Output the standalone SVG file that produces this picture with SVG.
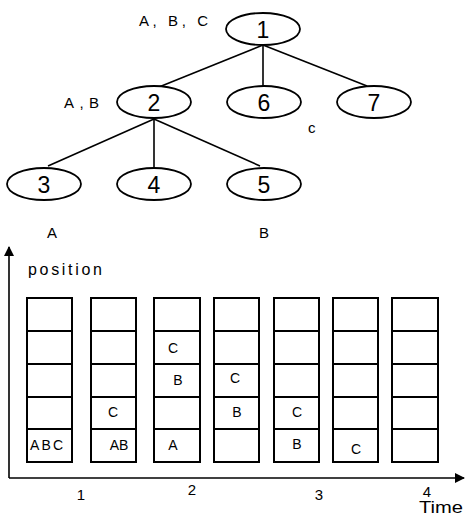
<svg xmlns="http://www.w3.org/2000/svg" width="465" height="517" viewBox="0 0 465 517">
<defs>
<style>
.n{fill:#fff;stroke:#000;stroke-width:1.8}
.e{stroke:#000;stroke-width:1.6;fill:none}
.t{font-family:"Liberation Sans",Arial,sans-serif;fill:#000}
.num{font-size:23px;text-anchor:middle}
.lab{font-size:15px}
.cell{fill:#fff;stroke:#000;stroke-width:2}
.cl{font-size:14px;text-anchor:middle}
.ax{stroke:#000;stroke-width:1.6;fill:none}
</style>
<marker id="arr" viewBox="0 0 10 10" refX="9" refY="5" markerWidth="10" markerHeight="10" markerUnits="userSpaceOnUse" orient="auto">
<path d="M0,0 L10,5 L0,10 z" fill="#000"/>
</marker>
</defs>
<rect width="465" height="517" fill="#fff"/>
<g id="connectors">
<line class="e" x1="263" y1="45" x2="159" y2="87"/>
<line class="e" x1="263" y1="45" x2="263" y2="87"/>
<line class="e" x1="263" y1="45" x2="367" y2="86"/>
<line class="e" x1="154" y1="119" x2="48" y2="166"/>
<line class="e" x1="154" y1="119" x2="154" y2="168"/>
<line class="e" x1="154" y1="119" x2="260" y2="166"/>
</g>
<g id="node1"><ellipse class="n" cx="263" cy="29" rx="37" ry="16"/><text class="t num" x="263" y="37.5">1</text></g>
<g id="node2"><ellipse class="n" cx="154" cy="102" rx="37" ry="16"/><text class="t num" x="154" y="110.5">2</text></g>
<g id="node6"><ellipse class="n" cx="264" cy="102" rx="37" ry="16"/><text class="t num" x="264" y="110.5">6</text></g>
<g id="node7"><ellipse class="n" cx="374" cy="102" rx="37" ry="16"/><text class="t num" x="374" y="110.5">7</text></g>
<g id="node3"><ellipse class="n" cx="44" cy="184" rx="37" ry="16"/><text class="t num" x="44" y="192.5">3</text></g>
<g id="node4"><ellipse class="n" cx="154" cy="184" rx="37" ry="16"/><text class="t num" x="154" y="192.5">4</text></g>
<g id="node5"><ellipse class="n" cx="264" cy="184" rx="37" ry="16"/><text class="t num" x="264" y="192.5">5</text></g>
<g id="tree-labels">
<text class="t lab" x="139" y="26" textLength="69" lengthAdjust="spacing">A, B, C</text>
<text class="t lab" x="64" y="108" textLength="35" lengthAdjust="spacing">A,B</text>
<text class="t lab" x="308" y="133">c</text>
<text class="t lab" x="47" y="238">A</text>
<text class="t lab" x="259" y="238">B</text>
</g>
<g id="axes">
<line class="ax" x1="9" y1="478" x2="9" y2="247" marker-end="url(#arr)"/>
<line class="ax" x1="9" y1="478" x2="464" y2="478" marker-end="url(#arr)"/>
<text class="t" x="28" y="275" font-size="16" textLength="74" lengthAdjust="spacing">position</text>
<text class="t" x="81" y="500" font-size="15" text-anchor="middle">1</text>
<text class="t" x="192" y="495" font-size="15" text-anchor="middle">2</text>
<text class="t" x="319" y="500" font-size="15" text-anchor="middle">3</text>
<text class="t" x="427" y="497" font-size="15" text-anchor="middle">4</text>
<text class="t" x="419" y="513" font-size="16" textLength="44" lengthAdjust="spacingAndGlyphs">Time</text>
</g>
<g id="grid">
<g id="col1"><rect class="cell" x="27" y="298" width="45" height="33"/><rect class="cell" x="27" y="331" width="45" height="33"/><rect class="cell" x="27" y="364" width="45" height="33"/><rect class="cell" x="27" y="397" width="45" height="32"/><rect class="cell" x="27" y="429" width="45" height="33"/>
<text class="t cl" x="46.5" y="450" textLength="33" lengthAdjust="spacing">ABC</text></g>
<g id="col2"><rect class="cell" x="91" y="298" width="45" height="33"/><rect class="cell" x="91" y="331" width="45" height="33"/><rect class="cell" x="91" y="364" width="45" height="33"/><rect class="cell" x="91" y="397" width="45" height="32"/><rect class="cell" x="91" y="429" width="45" height="33"/>
<text class="t cl" x="113" y="417">C</text><text class="t cl" x="119" y="450">AB</text></g>
<g id="col3"><rect class="cell" x="154" y="298" width="46" height="33"/><rect class="cell" x="154" y="331" width="46" height="33"/><rect class="cell" x="154" y="364" width="46" height="33"/><rect class="cell" x="154" y="397" width="46" height="32"/><rect class="cell" x="154" y="429" width="46" height="33"/>
<text class="t cl" x="173" y="353">C</text><text class="t cl" x="178" y="385">B</text><text class="t cl" x="173" y="450">A</text></g>
<g id="col4"><rect class="cell" x="214" y="298" width="45" height="33"/><rect class="cell" x="214" y="331" width="45" height="33"/><rect class="cell" x="214" y="364" width="45" height="33"/><rect class="cell" x="214" y="397" width="45" height="32"/><rect class="cell" x="214" y="429" width="45" height="33"/>
<text class="t cl" x="235" y="383">C</text><text class="t cl" x="237" y="417">B</text></g>
<g id="col5"><rect class="cell" x="274" y="298" width="45" height="33"/><rect class="cell" x="274" y="331" width="45" height="33"/><rect class="cell" x="274" y="364" width="45" height="33"/><rect class="cell" x="274" y="397" width="45" height="32"/><rect class="cell" x="274" y="429" width="45" height="33"/>
<text class="t cl" x="297" y="417">C</text><text class="t cl" x="297" y="449">B</text></g>
<g id="col6"><rect class="cell" x="333" y="298" width="45" height="33"/><rect class="cell" x="333" y="331" width="45" height="33"/><rect class="cell" x="333" y="364" width="45" height="33"/><rect class="cell" x="333" y="397" width="45" height="32"/><rect class="cell" x="333" y="429" width="45" height="33"/>
<text class="t cl" x="356" y="454">C</text></g>
<g id="col7"><rect class="cell" x="392" y="298" width="46" height="33"/><rect class="cell" x="392" y="331" width="46" height="33"/><rect class="cell" x="392" y="364" width="46" height="33"/><rect class="cell" x="392" y="397" width="46" height="32"/><rect class="cell" x="392" y="429" width="46" height="33"/></g>
</g>
</svg>
